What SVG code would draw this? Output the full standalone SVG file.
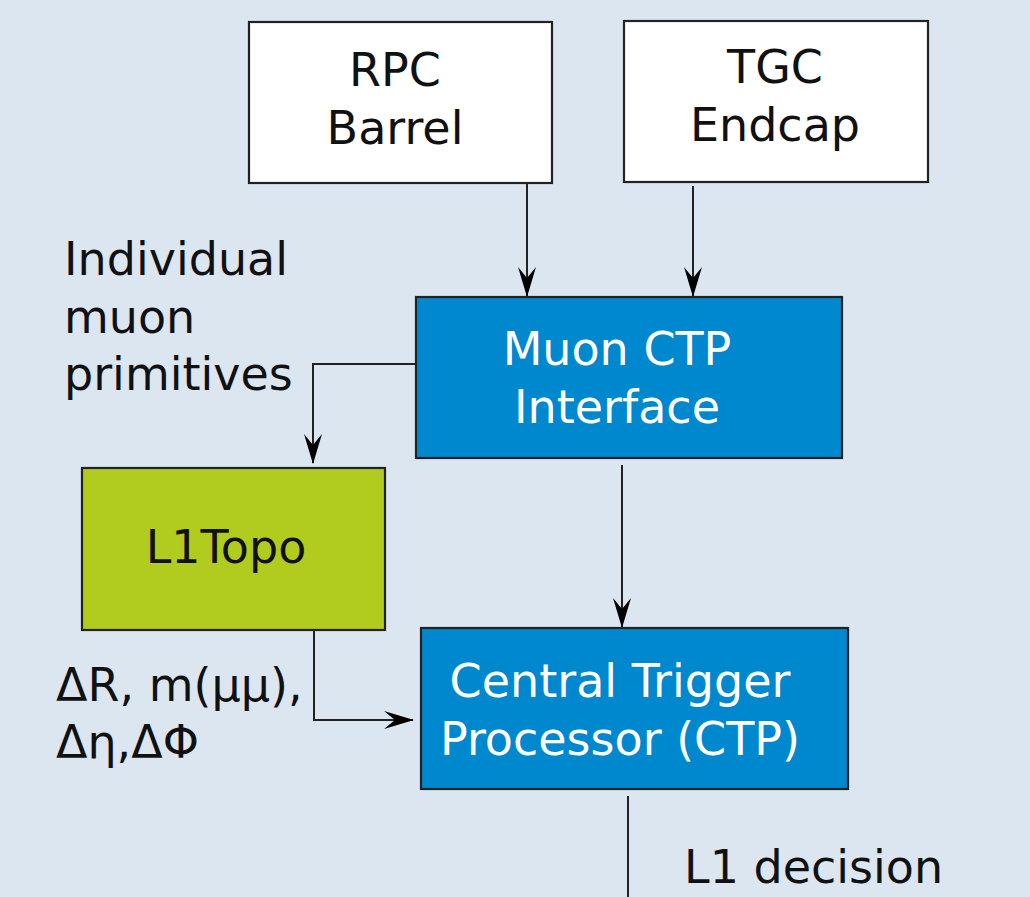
<svg xmlns="http://www.w3.org/2000/svg" width="1030" height="897" viewBox="0 0 1030 897">
<style>
.bg{fill:#dce6f1}
.box{stroke:#222;stroke-width:2.2}
.white{fill:#ffffff}
.blue{fill:#0088cf}
.green{fill:#b1cb1f}
text{font-family:"DejaVu Sans",sans-serif;font-size:46px}
.dk{fill:#111}
.lt{fill:#ffffff}
.c{text-anchor:middle}
.conn{fill:none;stroke:#222;stroke-width:2}
</style>
<defs>
<marker id="ah" viewBox="0 0 30 20" refX="29" refY="10" markerWidth="30" markerHeight="20" markerUnits="userSpaceOnUse" orient="auto">
<path d="M0,1 L30,10 L0,19 L11,10 z" fill="#000"/>
</marker>
</defs>
<rect class="bg" x="0" y="0" width="1030" height="897"/>
<g id="connectors">
<path class="conn" d="M527,184 L527,296" marker-end="url(#ah)"/>
<path class="conn" d="M693,186 L693,296" marker-end="url(#ah)"/>
<path class="conn" d="M416,364 L313,364 L313,463" marker-end="url(#ah)"/>
<path class="conn" d="M314,630 L314,720 L413,720" marker-end="url(#ah)"/>
<path class="conn" d="M622,465 L622,627" marker-end="url(#ah)"/>
<path class="conn" d="M628,796 L628,897"/>
</g>
<g id="rpc">
<rect class="box white" x="249" y="22" width="303" height="161"/>
<text class="dk c" x="395" y="86">RPC</text>
<text class="dk c" x="395" y="144">Barrel</text>
</g>
<g id="tgc">
<rect class="box white" x="624" y="21" width="304" height="161"/>
<text class="dk c" x="775" y="83">TGC</text>
<text class="dk c" x="775" y="141">Endcap</text>
</g>
<g id="muonctp">
<rect class="box blue" x="416" y="297" width="426" height="161"/>
<text class="lt c" x="617" y="365">Muon CTP</text>
<text class="lt c" x="617" y="423">Interface</text>
</g>
<g id="l1topo">
<rect class="box green" x="82" y="468" width="303" height="162"/>
<text class="dk c" x="226" y="563">L1Topo</text>
</g>
<g id="ctp">
<rect class="box blue" x="421" y="628" width="427" height="161"/>
<text class="lt c" x="620" y="697">Central Trigger</text>
<text class="lt c" x="620" y="755">Processor (CTP)</text>
</g>
<g id="labels">
<text class="dk" x="64" y="275">Individual</text>
<text class="dk" x="64" y="333">muon</text>
<text class="dk" x="64" y="390">primitives</text>
<text class="dk" x="56" y="701">ΔR, m(μμ),</text>
<text class="dk" x="56" y="758">Δη,ΔΦ</text>
<text class="dk" x="684" y="883">L1 decision</text>
</g>
</svg>
